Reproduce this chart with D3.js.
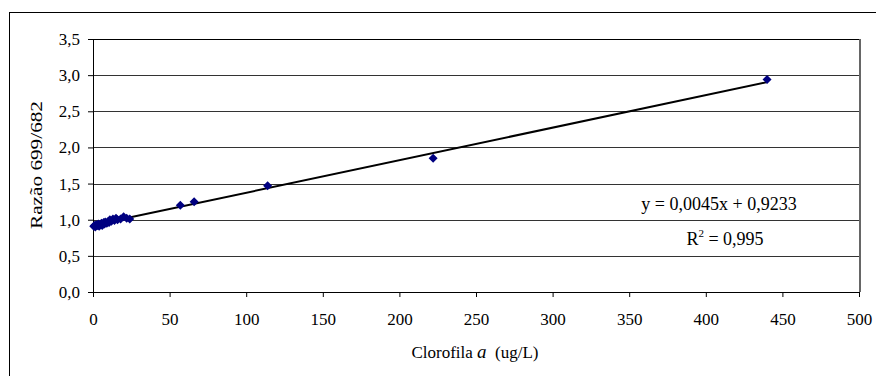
<!DOCTYPE html>
<html>
<head>
<meta charset="utf-8">
<script src="https://cdn.jsdelivr.net/npm/d3@7"></script>
<style>
  body { margin: 0; background: #fff; }
  #box { width: 876px; height: 376px; }
  text { font-family: "Liberation Serif", "Times New Roman", serif; fill: #000; }
</style>
</head>
<body>
<div id="box"></div>
<script>
// data
const clorofila = [0.5, 1, 1.5, 2, 3, 3.5, 4, 5, 5.5, 6, 7, 7.5, 8, 9, 10, 10.5, 11, 12, 13, 14, 15, 16, 18, 20, 22, 24, 57, 66, 114, 222, 440];
const razao = [0.91, 0.92, 0.90, 0.93, 0.92, 0.94, 0.91, 0.93, 0.95, 0.92, 0.96, 0.94, 0.97, 0.95, 0.98, 0.96, 1.00, 0.98, 1.01, 0.99, 1.02, 1.00, 1.01, 1.04, 1.02, 1.01, 1.20, 1.25, 1.47, 1.85, 2.94];
const xTicks = [0, 50, 100, 150, 200, 250, 300, 350, 400, 450, 500];
const yTicks = [0, 0.5, 1.0, 1.5, 2.0, 2.5, 3.0, 3.5];
const slope = 0.0045;
const intercept = 0.9233;
const eqLabel = 'y = 0,0045x + 0,9233';
const r2Value = ' = 0,995';

const width = 876, height = 376;
const padLeft = 93, padRight = 17, padTop = 39, padBottom = 84;
const innerWidth = width - padLeft - padRight;
const innerHeight = height - padTop - padBottom;

const svg = d3.select('#box').append('svg')
  .attr('width', width)
  .attr('height', height);

// outer frame
svg.append('rect')
  .attr('x', 9.5).attr('y', 12.5)
  .attr('width', 900).attr('height', 400)
  .style('fill', 'none').style('stroke', '#000');

const x = d3.scaleLinear().domain([0, 500]).range([0, innerWidth]);
const y = d3.scaleLinear().domain([0, 3.5]).range([innerHeight, 0]);
const fmt = d => d3.format('.1f')(d).replace('.', ',');

const pad = svg.append('g')
  .attr('transform', `translate(${padLeft}, ${padTop})`);

// gridlines
pad.selectAll('.grid').data(yTicks.slice(1))
  .join('line')
  .attr('class', 'grid')
  .attr('x1', 0).attr('x2', innerWidth)
  .attr('y1', d => Math.round(y(d)) + 0.5).attr('y2', d => Math.round(y(d)) + 0.5)
  .style('stroke', d => d === 3.5 ? '#000' : '#333')
  .style('stroke-width', 1);

// plot area right border
pad.append('line')
  .attr('x1', innerWidth + 1).attr('x2', innerWidth + 1)
  .attr('y1', 0).attr('y2', innerHeight)
  .style('stroke', '#666').style('stroke-width', 2);

// axes
const xAxis = pad.append('g')
  .attr('transform', `translate(0, ${innerHeight})`)
  .call(d3.axisBottom(x).tickValues(xTicks).tickSize(5).tickPadding(16).tickFormat(d => d));
const yAxis = pad.append('g')
  .call(d3.axisLeft(y).tickValues(yTicks).tickSize(5).tickPadding(8).tickFormat(fmt));

[xAxis, yAxis].forEach(a => {
  a.select('.domain').style('stroke', '#000');
  a.selectAll('.tick line').style('stroke', '#000');
  a.selectAll('.tick text')
    .style('font-family', '"Liberation Serif", serif')
    .style('font-size', '17px')
    .style('fill', '#000');
});

// trend line
pad.append('line')
  .attr('x1', x(d3.min(clorofila))).attr('y1', y(slope * d3.min(clorofila) + intercept))
  .attr('x2', x(d3.max(clorofila))).attr('y2', y(slope * d3.max(clorofila) + intercept))
  .style('stroke', '#000').style('stroke-width', 2);

// points (square diamonds like Excel)
const diamond = 'M0,-4.5L4.5,0L0,4.5L-4.5,0Z';
pad.selectAll('.pt').data(clorofila)
  .join('path')
  .attr('class', 'pt')
  .attr('d', diamond)
  .attr('transform', (d, i) => `translate(${x(d)}, ${y(razao[i])})`)
  .style('fill', '#000080');

// equation
pad.append('text')
  .attr('x', 719 - padLeft).attr('y', 210 - padTop)
  .attr('text-anchor', 'middle')
  .style('font-size', '18px')
  .text(eqLabel);

const r2 = pad.append('text')
  .attr('x', 725 - padLeft).attr('y', 245 - padTop)
  .attr('text-anchor', 'middle')
  .style('font-size', '18px');
r2.append('tspan').text('R');
r2.append('tspan').attr('dy', -8).style('font-size', '11px').text('2');
r2.append('tspan').attr('dy', 8).text(r2Value);

// axis titles
svg.append('text')
  .attr('x', 475).attr('y', 358)
  .attr('text-anchor', 'middle')
  .style('font-size', '17px')
  .call(t => {
    t.append('tspan').text('Clorofila ');
    t.append('tspan').style('font-style', 'italic').style('font-size', '19px').text('a');
    t.append('tspan').attr('xml:space', 'preserve').text('  (ug/L)');
  });

svg.append('text')
  .attr('transform', 'translate(42, 165) rotate(-90)')
  .attr('text-anchor', 'middle')
  .style('font-size', '17px')
  .attr('textLength', 128)
  .attr('lengthAdjust', 'spacingAndGlyphs')
  .text('Razão 699/682');
</script>
</body>
</html>
